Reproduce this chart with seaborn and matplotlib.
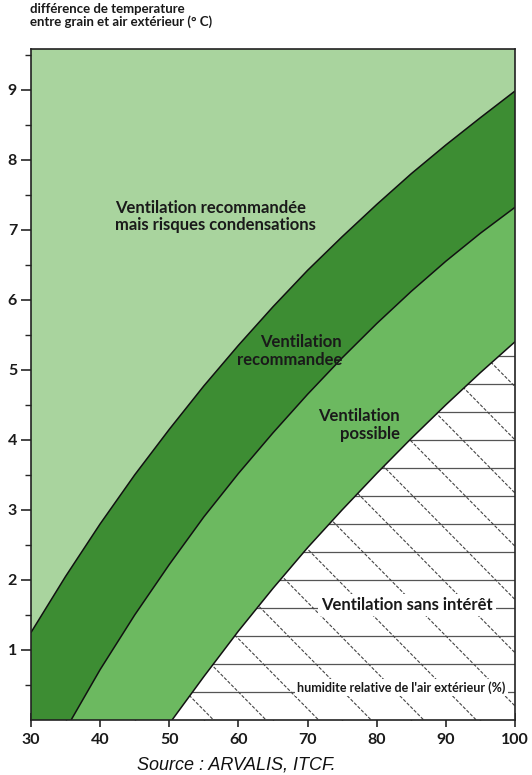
import numpy as np
import seaborn as sns
import matplotlib.pyplot as plt

# boundary curves (x = humidité %, y = écart °C)
top_x = [30, 35, 40, 45, 50, 55, 60, 65, 70, 75, 80, 85, 90, 95, 100]
top_y = [1.25, 2.05, 2.8, 3.5, 4.15, 4.77, 5.35, 5.9, 6.42, 6.9, 7.36, 7.8, 8.21, 8.6, 8.98]
mid_x = [35.8, 40, 45, 50, 55, 60, 65, 70, 75, 80, 85, 90, 95, 100]
mid_y = [0, 0.72, 1.5, 2.22, 2.9, 3.52, 4.1, 4.65, 5.17, 5.66, 6.12, 6.55, 6.95, 7.32]
bot_x = [50.4, 55, 60, 65, 70, 75, 80, 85, 90, 95, 100]
bot_y = [0, 0.62, 1.27, 1.88, 2.46, 3.0, 3.52, 4.02, 4.5, 4.96, 5.4]

x_ticks = [30, 40, 50, 60, 70, 80, 90, 100]
y_ticks = [1, 2, 3, 4, 5, 6, 7, 8, 9]

light = '#a9d49e'
dark = '#3d8d33'
medium = '#6cb960'

sns.set_style('ticks')
plt.rcParams['font.family'] = ['Lato', 'DejaVu Sans']

fig = plt.figure(figsize=(5.32, 7.75), dpi=100)
ax = fig.add_axes([31/532, 55/775, 484/532, 671/775])
ax.set_xlim(30, 100)
ax.set_ylim(0, 9.58)
ax.set_facecolor(light)

# bands
ax.fill(top_x + mid_x[::-1] + [30], top_y + mid_y[::-1] + [0], color=dark, lw=0)
ax.fill(mid_x + bot_x[::-1], mid_y + bot_y[::-1], color=medium, lw=0)
white = ax.fill(bot_x + [100], bot_y + [0], color='white', lw=0)[0]

# hatching inside the "sans intérêt" zone
for h in np.arange(0.4, 5.6, 0.4):
    ln = ax.axhline(h, color='#555555', lw=0.9)
    ln.set_clip_path(white)
xs = np.array([30, 110])
for x0 in np.arange(56.4, 170, 7.6):
    ln, = ax.plot(xs, -0.1 * (xs - x0), color='#444444', lw=0.8, ls=(0, (3, 1.5)))
    ln.set_clip_path(white)

for cx, cy in [(top_x, top_y), (mid_x, mid_y), (bot_x, bot_y)]:
    sns.lineplot(x=cx, y=cy, ax=ax, color='#111111', lw=1.1, sort=False)

txt = dict(color='#1a1a1a', fontweight='bold')
ax.text(42.2, 7.19, 'Ventilation recommandée\nmais risques condensations',
        ha='left', va='center', fontsize=12, linespacing=1.1, **txt)
ax.text(75.0, 5.27, 'Ventilation\nrecommandee', ha='right', va='center',
        multialignment='right', fontsize=12, linespacing=1.1, **txt)
ax.text(83.3, 4.21, 'Ventilation\npossible', ha='right', va='center',
        multialignment='right', fontsize=12, linespacing=1.1, **txt)
ax.text(84.4, 1.64, 'Ventilation sans intérêt', ha='center', va='center', fontsize=12,
        bbox=dict(facecolor='white', edgecolor='none', pad=2), **txt)
ax.text(83.6, 0.46, "humidite relative de l'air extérieur (%)", ha='center', va='center',
        fontsize=9, bbox=dict(facecolor='white', edgecolor='none', pad=1.5), **txt)

ax.set_xticks(x_ticks)
ax.set_xticks(np.arange(35, 100, 10), minor=True)
ax.set_yticks(y_ticks)
ax.set_yticks(np.arange(0.5, 9.6, 1), minor=True)
ax.tick_params(axis='x', which='major', direction='inout', length=10, width=1.2,
               labelsize=11.5, pad=4)
ax.tick_params(axis='x', which='minor', direction='in', length=5, width=1)
ax.tick_params(axis='y', which='major', direction='out', length=7, width=1.2,
               labelsize=11.5, pad=3)
ax.tick_params(axis='y', which='minor', direction='out', length=4, width=1)
for lab in ax.get_xticklabels() + ax.get_yticklabels():
    lab.set_fontweight('bold')
    lab.set_color('#1a1a1a')
for s in ax.spines.values():
    s.set_linewidth(1.2)
    s.set_color('#222222')

fig.text(30/532, 1 - 3/775, 'différence de temperature\nentre grain et air extérieur (° C)',
         ha='left', va='top', fontsize=9.5, linespacing=1.05, **txt)
fig.text(236/532, 1 - 765/775, 'Source : ARVALIS, ITCF.', ha='center', va='center',
         fontsize=13, style='italic', family=['Liberation Sans', 'DejaVu Sans'], color='#111111')

fig.savefig('out.png', dpi=100)
